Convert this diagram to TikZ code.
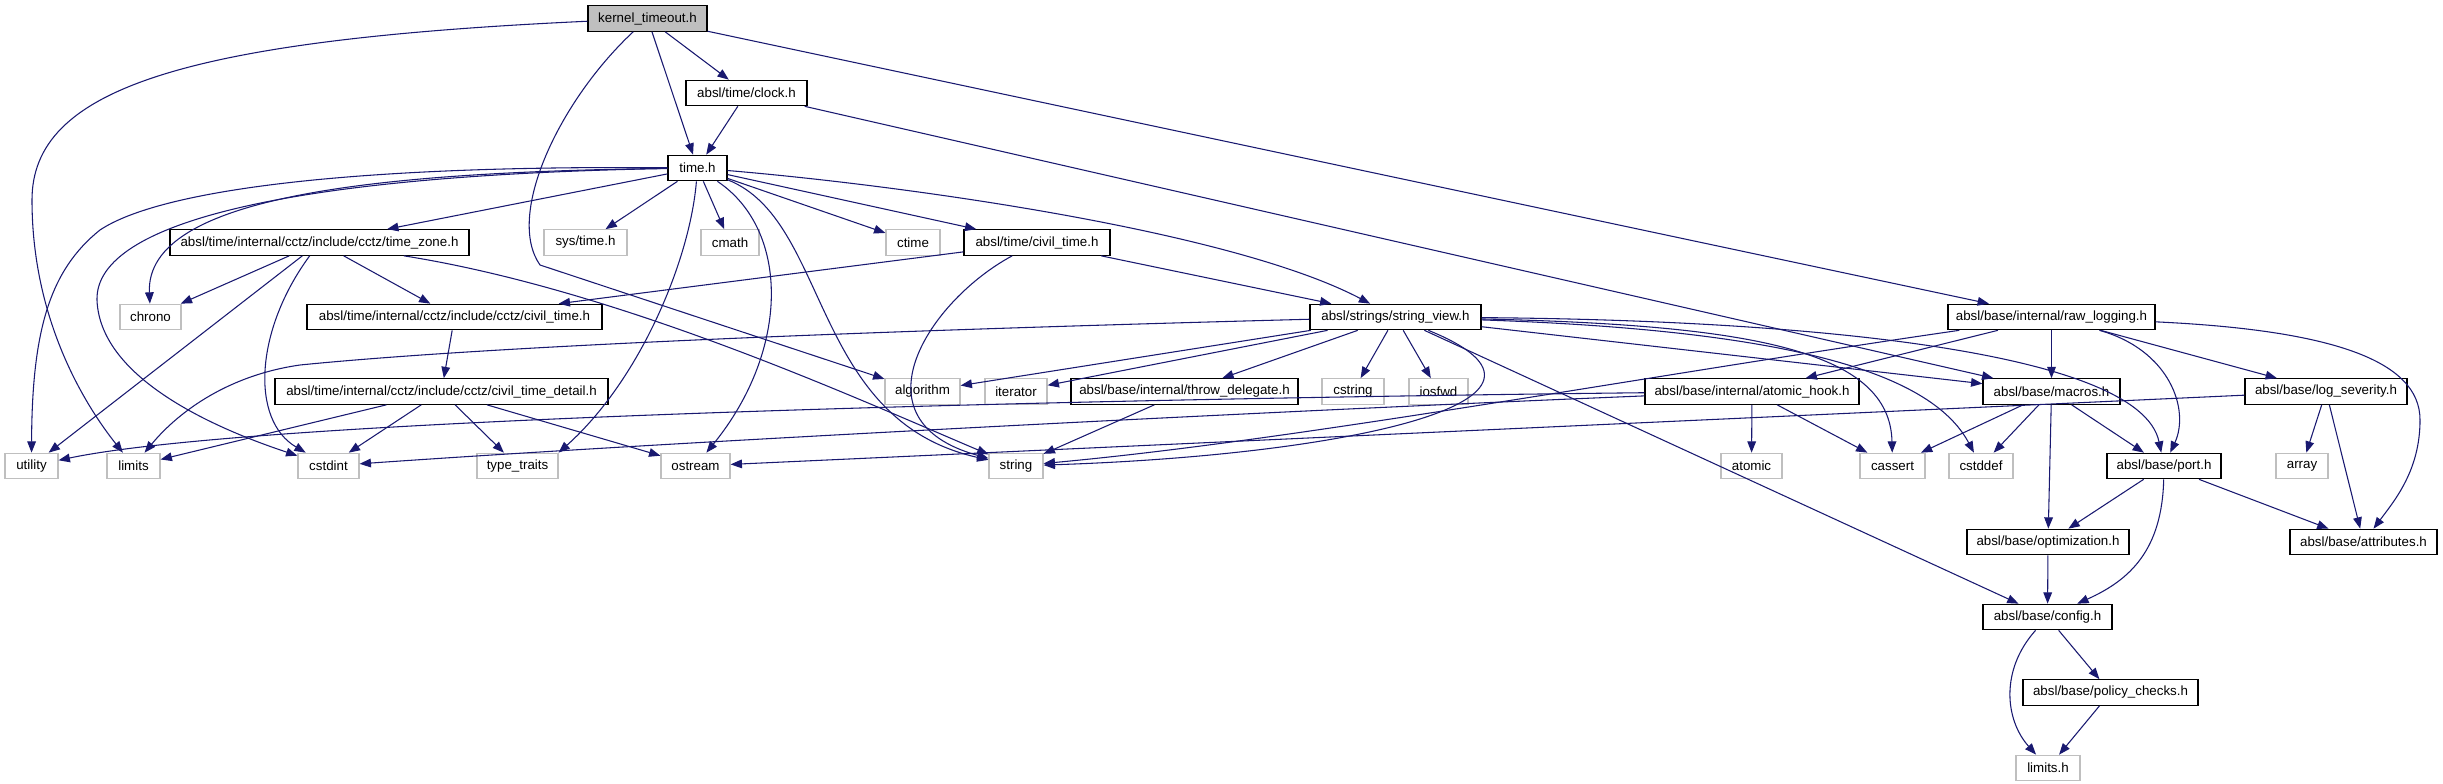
\documentclass[tikz,border=0pt]{standalone}
\usepackage{fontspec}
\setmainfont{Liberation Sans}
\usetikzlibrary{arrows.meta}
\definecolor{doxyblue}{HTML}{191970}
\definecolor{doxygray}{HTML}{BFBFBF}

\begin{document}
\begin{tikzpicture}[x=0.75pt,y=-0.75pt,>={Triangle[length=8.5pt,width=6.5pt]}]
  \tikzstyle{hdr}=[draw=black,fill=white,line width=0.9pt,minimum height=19.1pt,inner sep=0pt,font=\fontsize{10}{12}\selectfont]
  \tikzstyle{sys}=[hdr,draw=doxygray]
  \tikzstyle{dep}=[draw=doxyblue,line width=0.8pt,->]
  \useasboundingbox (0,0) rectangle (2443,784);
  \node[hdr,fill=doxygray,minimum width=89.25pt] (kto) at (647.5,18.5) {kernel\_timeout.h};
  \node[hdr,minimum width=90.75pt] (clock) at (746.5,93) {absl/time/clock.h};
  \node[hdr,minimum width=44.25pt] (timeh) at (697.5,168) {time.h};
  \node[hdr,minimum width=224.25pt] (tz) at (319.5,242.5) {absl/time/internal/cctz/include/cctz/time\_zone.h};
  \node[sys,minimum width=62.25pt] (systime) at (585.5,242.5) {sys/time.h};
  \node[sys,minimum width=43.5pt] (cmath) at (730,242.5) {cmath};
  \node[sys,minimum width=40.5pt] (ctime) at (913,242.5) {ctime};
  \node[hdr,minimum width=109.5pt] (civil) at (1037,242.5) {absl/time/civil\_time.h};
  \node[sys,minimum width=45.75pt] (chrono) at (150.5,317) {chrono};
  \node[hdr,minimum width=221.25pt] (cctzcivil) at (454.5,317) {absl/time/internal/cctz/include/cctz/civil\_time.h};
  \node[hdr,minimum width=128.25pt] (sv) at (1395.5,317) {absl/strings/string\_view.h};
  \node[hdr,minimum width=155.25pt] (rawlog) at (2051.5,317) {absl/base/internal/raw\_logging.h};
  \node[hdr,minimum width=249.75pt] (detail) at (441.5,391.5) {absl/time/internal/cctz/include/cctz/civil\_time\_detail.h};
  \node[sys,minimum width=56.25pt] (algorithm) at (922.5,391.5) {algorithm};
  \node[sys,minimum width=46.5pt] (iterator) at (1016,391.5) {iterator};
  \node[hdr,minimum width=170.25pt] (throwd) at (1184.5,391.5) {absl/base/internal/throw\_delegate.h};
  \node[sys,minimum width=46.5pt] (cstring) at (1353,391.5) {cstring};
  \node[sys,minimum width=44.25pt] (iosfwd) at (1438.5,391.5) {iosfwd};
  \node[hdr,minimum width=160.5pt] (atomhook) at (1752,391.5) {absl/base/internal/atomic\_hook.h};
  \node[hdr,minimum width=102.75pt] (macros) at (2051.5,391.5) {absl/base/macros.h};
  \node[hdr,minimum width=121.5pt] (logsev) at (2326,391.5) {absl/base/log\_severity.h};
  \node[sys,minimum width=39.75pt] (utility) at (31.5,466) {utility};
  \node[sys,minimum width=39.75pt] (limits) at (133.5,466) {limits};
  \node[sys,minimum width=45.75pt] (cstdint) at (328.5,466) {cstdint};
  \node[sys,minimum width=60.75pt] (typetraits) at (517.5,466) {type\_traits};
  \node[sys,minimum width=51.75pt] (ostream) at (695.5,466) {ostream};
  \node[sys,minimum width=40.5pt] (string) at (1016,466) {string};
  \node[sys,minimum width=45.75pt] (atomic) at (1751.5,466) {atomic};
  \node[sys,minimum width=48.75pt] (cassert) at (1892.5,466) {cassert};
  \node[sys,minimum width=48pt] (cstddef) at (1981,466) {cstddef};
  \node[hdr,minimum width=85.5pt] (port) at (2164,466) {absl/base/port.h};
  \node[sys,minimum width=39pt] (array) at (2302,466) {array};
  \node[hdr,minimum width=121.5pt] (optim) at (2048,542) {absl/base/optimization.h};
  \node[hdr,minimum width=110.25pt] (attrib) at (2363.5,542) {absl/base/attributes.h};
  \node[hdr,minimum width=96.75pt] (config) at (2047.5,617) {absl/base/config.h};
  \node[hdr,minimum width=131.25pt] (policy) at (2110.5,692.5) {absl/base/policy\_checks.h};
  \node[sys,minimum width=48pt] (limitsh) at (2048,768) {limits.h};
  \draw[dep] (kto) -- (clock);
  \draw[dep] (kto) -- (timeh);
  \draw[dep] (kto) .. controls (560,100) and (505,215) .. (540,265) -- (algorithm);
  \draw[dep] (kto) .. controls (180,40) and (32,90) .. (32,200) .. controls (32,320) and (85,405) .. (limits);
  \draw[dep] (kto) -- (rawlog);
  \draw[dep] (clock) -- (timeh);
  \draw[dep] (clock) -- (macros);
  \draw[dep] (timeh) .. controls (380,172) and (145,195) .. (chrono);
  \draw[dep] (timeh) .. controls (350,165) and (160,190) .. (100,230) .. controls (50,270) and (32,330) .. (utility);
  \draw[dep] (timeh) .. controls (300,175) and (95,220) .. (97,300) .. controls (100,380) and (220,430) .. (cstdint);
  \draw[dep] (timeh) -- (tz);
  \draw[dep] (timeh) -- (systime);
  \draw[dep] (timeh) -- (cmath);
  \draw[dep] (timeh) .. controls (690,260) and (640,380) .. (typetraits.north east);
  \draw[dep] (timeh) .. controls (790,230) and (790,350) .. (ostream);
  \draw[dep] (timeh) .. controls (830,220) and (810,420) .. (string);
  \draw[dep] (timeh) -- (ctime);
  \draw[dep] (timeh) -- (civil);
  \draw[dep] (timeh) .. controls (900,185) and (1230,230) .. (sv);
  \draw[dep] (tz) -- (chrono);
  \draw[dep] (tz) -- (utility);
  \draw[dep] (tz) .. controls (255,330) and (250,420) .. (cstdint);
  \draw[dep] (tz) -- (cctzcivil);
  \draw[dep] (tz) .. controls (620,290) and (860,400) .. (string);
  \draw[dep] (cctzcivil) -- (detail);
  \draw[dep] (detail) -- (limits);
  \draw[dep] (detail) -- (cstdint);
  \draw[dep] (detail) -- (typetraits);
  \draw[dep] (detail) -- (ostream);
  \draw[dep] (civil) -- (cctzcivil);
  \draw[dep] (civil) .. controls (930,300) and (850,420) .. (string);
  \draw[dep] (civil) -- (sv);
  \draw[dep] (sv) .. controls (900,330) and (500,345) .. (300,365) .. controls (230,375) and (180,410) .. (limits);
  \draw[dep] (sv) -- (algorithm);
  \draw[dep] (sv) -- (iterator);
  \draw[dep] (sv) -- (throwd);
  \draw[dep] (sv) -- (cstring);
  \draw[dep] (sv) -- (iosfwd);
  \draw[dep] (sv) .. controls (1600,400) and (1350,455) .. (string);
  \draw[dep] (sv) -- (macros);
  \draw[dep] (sv) .. controls (1800,320) and (2140,350) .. (port);
  \draw[dep] (sv) .. controls (1750,325) and (1890,350) .. (cassert);
  \draw[dep] (sv) .. controls (1780,330) and (1930,370) .. (cstddef);
  \draw[dep] (sv) -- (config);
  \draw[dep] (throwd) -- (string);
  \draw[dep] (rawlog) .. controls (1650,375) and (1300,440) .. (string);
  \draw[dep] (rawlog) -- (atomhook);
  \draw[dep] (rawlog) -- (macros);
  \draw[dep] (rawlog) -- (logsev);
  \draw[dep] (rawlog) .. controls (2170,350) and (2190,410) .. (port);
  \draw[dep] (rawlog) .. controls (2330,330) and (2420,360) .. (2420,420) .. controls (2420,470) and (2395,500) .. (attrib);
  \draw[dep] (atomhook) .. controls (1000,400) and (250,420) .. (utility);
  \draw[dep] (atomhook) .. controls (1300,410) and (700,440) .. (cstdint);
  \draw[dep] (atomhook) -- (atomic);
  \draw[dep] (atomhook) -- (cassert);
  \draw[dep] (macros) -- (cassert);
  \draw[dep] (macros) -- (cstddef);
  \draw[dep] (macros) -- (optim);
  \draw[dep] (macros) -- (port);
  \draw[dep] (logsev) -- (ostream);
  \draw[dep] (logsev) -- (array);
  \draw[dep] (logsev) -- (attrib);
  \draw[dep] (port) -- (optim);
  \draw[dep] (port) .. controls (2162,550) and (2130,580) .. (config);
  \draw[dep] (port) -- (attrib);
  \draw[dep] (optim) -- (config);
  \draw[dep] (config) -- (policy);
  \draw[dep] (config) .. controls (2000,670) and (2005,720) .. (limitsh);
  \draw[dep] (policy) -- (limitsh);
\end{tikzpicture}
\end{document}
